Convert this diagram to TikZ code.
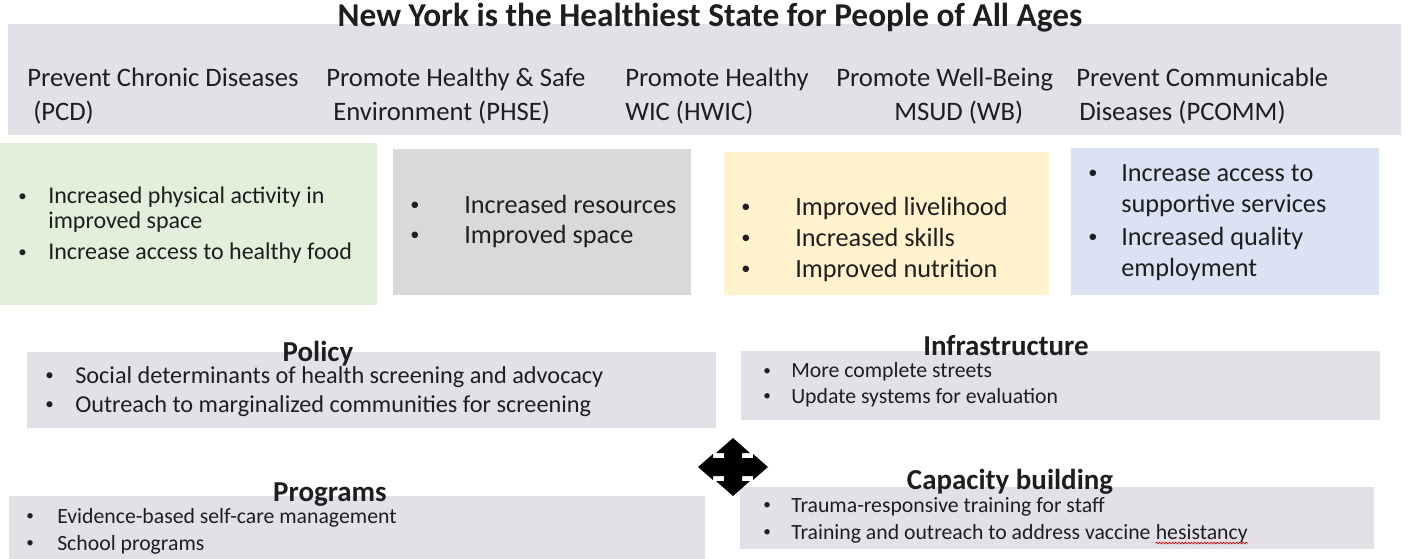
\documentclass[tikz,border=0pt]{standalone}
\usepackage{fontspec}
\setmainfont{Carlito}
\usetikzlibrary{decorations.pathmorphing}
\definecolor{lav}{HTML}{E4E0E8}
\definecolor{grn}{HTML}{E2EFDA}
\definecolor{gry}{HTML}{D9D9D9}
\definecolor{ylw}{HTML}{FFF2CC}
\definecolor{blu}{HTML}{DAE3F3}
\definecolor{ink}{HTML}{1E1E1E}
\newcommand{\bul}{\raisebox{0.12em}{\scalebox{0.7}{•}}}
\begin{document}
\begin{tikzpicture}[x=0.75pt,y=-0.75pt,
  txt/.style={anchor=base west,inner sep=0pt,text=ink},
  hdr/.style={txt,font=\fontsize{20}{24}\selectfont},
  outc/.style={txt,font=\fontsize{19.7}{23}\selectfont},
  outg/.style={txt,font=\fontsize{18}{22}\selectfont},
  pol/.style={txt,font=\fontsize{18.2}{22}\selectfont},
  sml/.style={txt,font=\fontsize{16.3}{19}\selectfont},
  sect/.style={anchor=base,inner sep=0pt,text=ink,font=\bfseries\fontsize{21.7}{25}\selectfont}]
\useasboundingbox[fill=white] (0,0) rectangle (1409,559);
% banner
\fill[lav] (8,24) rectangle (1401,135);
\node[anchor=base,inner sep=0pt,text=ink,font=\bfseries\fontsize{25}{29}\selectfont] (title) at (710,27) {New York is the Healthiest State for People of All Ages};
\node[hdr] (h1a) at (27,87) {Prevent Chronic Diseases};
\node[hdr] (h1b) at (33,121) {(PCD)};
\node[hdr] (h2a) at (326,87) {Promote Healthy \& Safe};
\node[hdr] (h2b) at (333,121) {Environment (PHSE)};
\node[hdr] (h3a) at (625,87) {Promote Healthy};
\node[hdr] (h3b) at (625,121) {WIC (HWIC)};
\node[hdr] (h4a) at (836,87) {Promote Well-Being};
\node[hdr] (h4b) at (894,121) {MSUD (WB)};
\node[hdr] (h5a) at (1076,87) {Prevent Communicable};
\node[hdr] (h5b) at (1079,121) {Diseases (PCOMM)};
% outcome boxes
\fill[grn] (0,143) rectangle (377,305);
\fill[gry] (393,149) rectangle (691,295);
\fill[ylw] (724,152) rectangle (1049,295);
\fill[blu] (1071,148) rectangle (1379,295);
\node[outg] (g1b) at (18,204) {\bul};
\node[outg] (g1) at (48,204) {Increased physical activity in};
\node[outg] (g1c) at (48,229) {improved space};
\node[outg] (g2b) at (18,260) {\bul};
\node[outg] (g2) at (48,260) {Increase access to healthy food};
\node[outc] (r1b) at (410,214) {\bul};
\node[outc] (r1) at (464,214) {Increased resources};
\node[outc] (r2b) at (410,244) {\bul};
\node[outc] (r2) at (464,244) {Improved space};
\node[outc] (y1b) at (741,216) {\bul};
\node[outc] (y1) at (795,216) {Improved livelihood};
\node[outc] (y2b) at (741,247) {\bul};
\node[outc] (y2) at (795,247) {Increased skills};
\node[outc] (y3b) at (741,278) {\bul};
\node[outc] (y3) at (795,278) {Improved nutrition};
\node[outc] (b1b) at (1088,182) {\bul};
\node[outc] (b1) at (1121,182) {Increase access to};
\node[outc] (b1c) at (1121,213) {supportive services};
\node[outc] (b2b) at (1088,246) {\bul};
\node[outc] (b2) at (1121,246) {Increased quality};
\node[outc] (b2c) at (1121,277) {employment};
% lower boxes
\fill[lav] (27,352) rectangle (716,428);
\fill[lav] (741,351) rectangle (1380,420);
\fill[lav] (9,496) rectangle (705,559);
\fill[lav] (740,487) rectangle (1374,549);
\node[sect] (tpol) at (318,361) {Policy};
\node[pol] (p1b) at (45,383) {\bul};
\node[pol] (p1) at (75,383) {Social determinants of health screening and advocacy};
\node[pol] (p2b) at (45,412) {\bul};
\node[pol] (p2) at (75,412) {Outreach to marginalized communities for screening};
\node[sect] (tinf) at (1006,355) {Infrastructure};
\node[sml] (i1b) at (763,378) {\bul};
\node[sml] (i1) at (791,378) {More complete streets};
\node[sml] (i2b) at (763,403) {\bul};
\node[sml] (i2) at (791,403) {Update systems for evaluation};
\node[sect] (tprg) at (330,501) {Programs};
\node[sml] (m1b) at (26,523) {\bul};
\node[sml] (m1) at (57,523) {Evidence-based self-care management};
\node[sml] (m2b) at (26,550) {\bul};
\node[sml] (m2) at (57,550) {School programs};
\node[sect] (tcap) at (1010,489) {Capacity building};
\node[sml] (c1b) at (763,512) {\bul};
\node[sml] (c1) at (791,512) {Trauma-responsive training for staff};
\node[sml] (c2b) at (763,539) {\bul};
\node[sml] (c2) at (791,539) {Training and outreach to address vaccine};
\node[sml,anchor=base west] (c2w) at ([xshift=3.5pt]c2.base east) {hesistancy};
\draw[red!80!black,line width=0.5pt,decorate,decoration={snake,amplitude=0.6pt,segment length=2.4pt}]
  ([yshift=-3pt]c2w.base west) -- ([yshift=-3pt]c2w.base east);
% four-way arrow
\begin{scope}[shift={(733,467)}]
\fill[black] (0,-29) -- (17,-14) -- (9,-14) -- (9,-9) -- (20,-9) -- (20,-13) -- (35,0)
  -- (20,13) -- (20,9) -- (9,9) -- (9,14) -- (17,14) -- (0,29) -- (-17,14) -- (-9,14)
  -- (-9,9) -- (-20,9) -- (-20,13) -- (-35,0) -- (-20,-13) -- (-20,-9) -- (-9,-9)
  -- (-9,-14) -- (-17,-14) -- cycle;
\end{scope}
\end{tikzpicture}
\end{document}
